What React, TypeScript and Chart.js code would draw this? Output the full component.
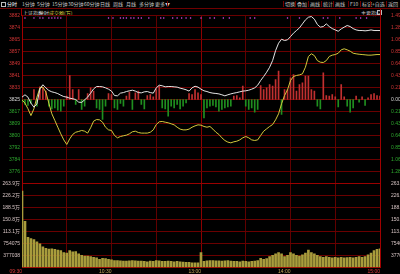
import React, { useEffect, useRef } from 'react';
import { Chart, registerables } from 'chart.js';
Chart.register(...registerables);

// ---------- data ----------
const BASE_PRICE = 3825;
const TOP_PCT = 1.49;
const MINUTE_STEP = 2;
const priceLabels = ['3882', '3874', '3865', '3857', '3849', '3841', '3833', '3825', '3817', '3809', '3800', '3792', '3784', '3776'];
const pctLabels = ['1.49%', '1.28%', '1.06%', '0.85%', '0.64%', '0.43%', '0.21%', '0.00%', '0.21%', '0.43%', '0.64%', '0.85%', '1.06%', '1.28%'];
const volLabels = ['263.9万', '226.2万', '188.5万', '150.8万', '113.1万', '754075', '377038'];
const VOL_STEP = 37.7038; // 万
const gridMinutes = [0, 30, 60, 90, 120, 150, 180, 210, 240];
const timeTicks = [0, 60, 120, 180, 240];
const timeTickLabels = ['09:30', '10:30', '13:00', '14:00', '15:00'];

const whiteLine = [
  3826.6, 3828.2, 3826.6, 3822.5, 3819.8, 3822.0, 3832.2, 3835.0, 3832.9, 3831.1,
  3830.2, 3829.7, 3829.0, 3827.9, 3827.0, 3826.6, 3825.9, 3825.5, 3825.0, 3823.2,
  3823.0, 3824.8, 3826.6, 3829.3, 3832.2, 3833.8, 3833.8, 3833.6, 3832.9, 3832.0,
  3830.7, 3827.7, 3827.5, 3829.3, 3829.7, 3830.4, 3830.9, 3831.3, 3830.7, 3829.7,
  3829.5, 3830.2, 3830.4, 3829.7, 3829.3, 3832.9, 3834.7, 3834.3, 3833.6, 3833.8,
  3833.8, 3833.6, 3833.4, 3832.7, 3832.2, 3831.6, 3830.7, 3832.9, 3834.0, 3833.4,
  3832.0,
  3830.9, 3830.4, 3829.7, 3829.3, 3829.1, 3828.8, 3828.2, 3827.5, 3828.2, 3828.8,
  3829.3, 3829.7, 3830.2, 3830.7, 3830.9, 3831.3, 3832.0, 3832.9, 3834.7, 3837.9,
  3840.6, 3843.5, 3846.9, 3851.4, 3858.2, 3863.2, 3865.9, 3865.0, 3865.5, 3867.7,
  3870.0, 3871.8, 3873.6, 3876.3, 3879.0, 3880.8, 3881.3, 3879.5, 3875.9, 3874.1,
  3874.5, 3876.3, 3874.5, 3873.1, 3872.2, 3871.3, 3872.9, 3874.1, 3875.2, 3874.5,
  3873.1, 3872.2, 3871.8, 3871.8, 3871.6, 3871.8, 3872.2, 3871.8, 3871.8, 3871.8,
];

const yellowLine = [
  3824.8, 3822.5, 3818.7, 3814.1, 3818.7, 3826.6, 3832.9, 3833.4, 3830.0, 3822.5,
  3815.3, 3810.8, 3806.2, 3801.7, 3797.6, 3794.5, 3798.3, 3801.3, 3802.8, 3803.3,
  3804.0, 3803.5, 3802.2, 3805.8, 3810.3, 3811.4, 3811.2, 3809.6, 3806.2, 3804.4,
  3804.0, 3800.6, 3799.0, 3799.9, 3800.4, 3800.8, 3801.7, 3803.1, 3803.5, 3802.6,
  3802.2, 3802.2, 3802.2, 3802.8, 3804.4, 3808.0, 3809.9, 3810.1, 3809.6, 3809.2,
  3808.5, 3807.8, 3806.2, 3804.9, 3804.4, 3804.4, 3804.9, 3806.2, 3807.1, 3807.8,
  3807.6,
  3806.7, 3806.2, 3806.7, 3804.9, 3802.8, 3801.3, 3799.0, 3797.2, 3796.1, 3795.6,
  3796.3, 3796.7, 3797.6, 3799.0, 3799.9, 3799.0, 3797.6, 3797.2, 3797.6, 3800.6,
  3803.5, 3805.1, 3806.7, 3808.0, 3811.2, 3815.3, 3822.1, 3827.7, 3831.6, 3837.9,
  3840.6, 3841.3, 3841.7, 3842.4, 3846.9, 3854.2, 3856.0, 3854.8, 3851.4, 3850.3,
  3850.1, 3851.4, 3854.2, 3855.1, 3855.5, 3856.4, 3858.7, 3859.4, 3858.7, 3857.8,
  3856.4, 3856.0, 3855.7, 3855.5, 3855.3, 3855.1, 3855.1, 3855.3, 3855.5, 3855.5,
];

const flowBars = [
  -0.8, -1.5, -1.8, -1.2, 3.0, -2.0, 3.8, 3.5, 2.5, -2.0,
  -2.8, -2.5, -3.2, -3.5, -2.0, 1.0, 7.2, 3.0, -1.5, 3.0,
  -3.0, -2.0, 1.8, 3.5, 2.5, -2.5, -3.0, -6.0, -2.0, 1.8,
  1.5, -2.5, -3.0, -1.2, -2.0, 1.0, 2.2, -3.0, 2.0, 2.5,
  -1.5, -2.8, 1.2, 1.5, 0.8, 3.0, 4.0, -2.5, -2.8, -5.0,
  -2.0, -2.5, -1.5, -2.8, -2.0, -1.0, 1.8, 1.5, 3.0, 2.0,
  1.5,
  -5.5, -2.5, -2.0, -1.8, -2.2, -3.5, -3.0, -2.5, -2.2, -2.0,
  1.0, 1.2, 0.5, 4.0, -2.0, -3.0, -2.5, -3.8, -3.0, 4.2,
  3.0, 3.5, 4.5, 4.0, 6.0, 8.5, -4.5, 3.0, 3.0, 6.5,
  7.5, 2.5, 4.5, 5.0, 7.0, 7.0, 3.0, 2.5, -2.0, -2.8,
  8.0, 1.2, 1.0, 1.5, 0.8, -2.2, 4.5, 0.8, -2.0, -3.8,
  -2.5, 1.0, -0.8, 0.8, -1.8, 0.5, 1.5, 1.8, 1.2, 1.0,
];
const FLOW_RANGE = 25.2;

const volume = [
  240, 145, 94.5, 91, 88, 81, 74, 65, 60, 58,
  59, 57, 55, 53, 47, 45, 53, 49, 50, 43,
  38, 36, 36, 34, 32, 30, 26, 29, 28, 26,
  24, 22, 22, 21, 20, 20, 21, 22, 21, 20,
  20, 19, 18, 20, 19, 22, 21, 19, 19, 20,
  19, 18, 19, 18, 17, 16, 16, 15, 15, 15,
  47,
  19, 21, 22, 22, 21, 21, 20, 21, 22, 20,
  19, 19, 18, 20, 19, 18, 19, 20, 22, 29,
  26, 28, 34, 38, 43, 47, 43, 34, 38, 47,
  43, 38, 36, 40, 45, 55, 47, 43, 38, 34,
  32, 34, 32, 30, 32, 30, 32, 30, 31, 32,
  30, 32, 34, 32, 34, 40, 45, 53, 57, 59,
];

const markerMinutes = [2, 8, 12, 14, 18, 20, 22, 24, 26, 58, 61, 66, 68, 70, 73, 75, 78, 80, 85, 93, 95, 101, 104, 107, 110, 113, 120, 126, 129, 135, 139, 153, 156, 178, 186, 202, 205, 213, 224, 227, 231];
const MARKER_LEVEL = 3880.3;

const topLeftItems = ['分时', '1分钟', '5分钟', '15分钟', '30分钟', '60分钟', '日线', '周线', '月线', '多分钟', '更多▼'];
const topRightItems = ['切换', '叠加', '画线', '统计', '画线', 'F10', '标记', '+自选', '返回'];

// ---------- styles ----------
const BG = '#000000';
const GRID = '#6a0000';
const GRID_V = '#600000';
const GRID_MID = '#8c0000';
const AXIS = '#a00000';
const RED = '#d03434';
const GREEN = '#2ea82e';
const WHITE = '#e4e4e4';
const YELLOW = '#d2c83c';
const BAR_RED = '#c03030';
const BAR_GREEN = '#1f8f1f';
const VOL = '#a89c3c';
const MAGENTA = '#c040d0';
const FONT = "'Liberation Sans', 'Noto Sans CJK SC', sans-serif";
const CJK = "'Noto Sans CJK SC', 'Liberation Sans', sans-serif";

const pMin = BASE_PRICE * (1 - TOP_PCT / 100);
const pMax = BASE_PRICE * (1 + TOP_PCT / 100);
const pStep = (pMax - pMin) / 14;
const vMax = VOL_STEP * 7;

const toPoints = (arr: number[]) => arr.map((v, i) => ({ x: i * MINUTE_STEP, y: v }));

const priceTickColor = (ctx: any) => (ctx.index > 7 ? RED : ctx.index === 7 ? '#d8d8d8' : GREEN);

function vGridColor(ctx: any) {
  const m = ctx && ctx.tick ? Number(ctx.tick.value) : -1;
  if (m === 0 || m === 240) return 'rgba(0,0,0,0)';
  if (m === 120) return GRID_MID;
  return GRID_V;
}

function xScale() {
  return {
    type: 'linear' as const,
    min: 0,
    max: 240,
    offset: false,
    afterBuildTicks: (s: any) => {
      s.ticks = gridMinutes.map((v) => ({ value: v }));
    },
    grid: { offset: false, drawTicks: false, color: vGridColor },
    border: { display: false },
  };
}

function PriceChart() {
  const ref = useRef<HTMLCanvasElement>(null);
  useEffect(() => {
    if (!ref.current) return;
    const chart = new Chart(ref.current, {
      type: 'line',
      data: {
        datasets: [
          {
            type: 'bar',
            data: toPoints(flowBars),
            yAxisID: 'yb',
            backgroundColor: flowBars.map((v) => (v >= 0 ? BAR_RED : BAR_GREEN)),
            barThickness: 1,
            order: 4,
          } as any,
          {
            type: 'line',
            data: toPoints(yellowLine),
            yAxisID: 'y',
            borderColor: YELLOW,
            borderWidth: 1,
            pointRadius: 0,
            tension: 0,
            order: 2,
          },
          {
            type: 'line',
            data: toPoints(whiteLine),
            yAxisID: 'y',
            borderColor: WHITE,
            borderWidth: 1,
            pointRadius: 0,
            tension: 0,
            order: 1,
          },
          {
            type: 'scatter',
            data: markerMinutes.map((m) => ({ x: m, y: MARKER_LEVEL })),
            yAxisID: 'y',
            pointStyle: 'rect',
            pointRadius: 0.9,
            backgroundColor: MAGENTA,
            borderWidth: 0,
            order: 0,
          } as any,
        ],
      },
      options: {
        responsive: false,
        animation: false,
        events: [],
        layout: { padding: { top: 15.5, bottom: 8.5, left: 0, right: 0 } },
        plugins: { legend: { display: false }, tooltip: { enabled: false } },
        scales: {
          x: {
            ...xScale(),
            ticks: { display: false },
            afterFit: (s: any) => { s.height = 0; },
          },
          y: {
            position: 'left',
            min: pMin,
            max: pMax,
            afterBuildTicks: (s: any) => {
              s.ticks = Array.from({ length: 15 }, (_, k) => ({ value: pMin + k * pStep }));
            },
            ticks: {
              autoSkip: false,
              padding: 2,
              font: { size: 5, family: FONT },
              color: priceTickColor,
              callback: (_v: any, i: number) => (i === 0 ? '' : priceLabels[14 - i]),
            },
            grid: { drawTicks: false, color: GRID },
            border: { color: AXIS },
            afterFit: (s: any) => { s.width = 22; },
          },
          yr: {
            position: 'right',
            min: pMin,
            max: pMax,
            afterBuildTicks: (s: any) => {
              s.ticks = Array.from({ length: 15 }, (_, k) => ({ value: pMin + k * pStep }));
            },
            ticks: {
              autoSkip: false,
              padding: 3,
              font: { size: 5, family: FONT },
              color: priceTickColor,
              callback: (_v: any, i: number) => (i === 0 ? '' : pctLabels[14 - i]),
            },
            grid: { display: false },
            border: { color: AXIS },
            afterFit: (s: any) => { s.width = 20; },
          },
          yb: { display: false, min: -FLOW_RANGE, max: FLOW_RANGE },
        },
      } as any,
    });
    return () => chart.destroy();
  }, []);
  return <canvas ref={ref} width={400} height={192} style={{ position: 'absolute', left: 0, top: 0, display: 'block' }} />;
}

function VolumeChart() {
  const ref = useRef<HTMLCanvasElement>(null);
  useEffect(() => {
    if (!ref.current) return;
    const ticks = () => Array.from({ length: 8 }, (_, k) => ({ value: k * VOL_STEP }));
    const chart = new Chart(ref.current, {
      type: 'bar',
      data: {
        datasets: [
          {
            data: toPoints(volume),
            backgroundColor: VOL,
            barThickness: 2,
          } as any,
        ],
      },
      options: {
        responsive: false,
        animation: false,
        events: [],
        layout: { padding: { top: 7.5, bottom: 0, left: 0, right: 0 } },
        plugins: { legend: { display: false }, tooltip: { enabled: false } },
        scales: {
          x: {
            ...xScale(),
            ticks: {
              autoSkip: false,
              maxRotation: 0,
              align: 'end',
              padding: 1,
              font: { size: 5, family: FONT },
              color: (ctx: any) => {
                const v = ctx && ctx.tick ? Number(ctx.tick.value) : -1;
                return v === 0 || v === 240 ? '#e03a3a' : '#c4a85a';
              },
              callback: (v: any) => {
                const i = timeTicks.indexOf(Number(v));
                return i >= 0 ? timeTickLabels[i] : '';
              },
            },
            border: { display: true, color: AXIS },
            afterFit: (s: any) => { s.height = 6.5; },
          },
          y: {
            position: 'left',
            min: 0,
            max: vMax,
            afterBuildTicks: (s: any) => { s.ticks = ticks(); },
            ticks: {
              autoSkip: false,
              padding: 2,
              font: { size: 5, family: FONT },
              color: '#d6c4c4',
              callback: (_v: any, i: number) => (i === 0 ? '' : volLabels[7 - i]),
            },
            grid: {
              drawTicks: false,
              color: (ctx: any) => (ctx && ctx.index === 7 ? '#9a0000' : GRID),
            },
            border: { color: AXIS },
            afterFit: (s: any) => { s.width = 22; },
          },
          yr: {
            position: 'right',
            min: 0,
            max: vMax,
            afterBuildTicks: (s: any) => { s.ticks = ticks(); },
            ticks: {
              autoSkip: false,
              padding: 3,
              font: { size: 5, family: FONT },
              color: '#d6c4c4',
              callback: (_v: any, i: number) => (i === 0 ? '' : volLabels[7 - i]),
            },
            grid: { display: false },
            border: { color: AXIS },
            afterFit: (s: any) => { s.width = 20; },
          },
        },
      } as any,
    });
    return () => chart.destroy();
  }, []);
  return <canvas ref={ref} width={400} height={98} style={{ position: 'absolute', left: 0, top: 176, display: 'block' }} />;
}

const leftX = [7, 22, 37, 52, 68, 84, 100, 113, 126, 139, 155];
const rightX = [285, 297, 310, 323, 335, 350, 362, 372, 388];

function Header() {
  const txt: React.CSSProperties = {
    position: 'absolute',
    fontFamily: CJK,
    fontSize: '5px',
    lineHeight: '8px',
    color: '#c8c8c8',
    whiteSpace: 'nowrap',
  };
  return (
    <>
      <div style={{ position: 'absolute', left: 0, top: 8, width: 400, height: 1, background: '#700000' }} />
      <div style={{ position: 'absolute', left: 1, top: 2, width: 3, height: 3, border: '1px solid #bbbbbb' }} />
      {topLeftItems.map((t, i) => (
        <span key={'l' + i} style={{ ...txt, left: leftX[i], top: 0, color: i === 0 ? '#ffffff' : '#c8c8c8' }}>{t}</span>
      ))}
      <div style={{ position: 'absolute', left: 167, top: 1, width: 1, height: 6, background: '#700000' }} />
      {topRightItems.map((t, i) => (
        <React.Fragment key={'r' + i}>
          <div style={{ position: 'absolute', left: rightX[i] - 2, top: 1, width: 1, height: 6, background: '#700000' }} />
          <span style={{ ...txt, left: rightX[i], top: 0 }}>{t}</span>
        </React.Fragment>
      ))}
      <span style={{ ...txt, left: 23, top: 8.5, color: '#d0d0d0' }}>上证指数</span>
      <span style={{ ...txt, left: 39, top: 8.5, color: '#d0d0d0' }}>分时</span>
      <span style={{ ...txt, left: 49, top: 8.5, color: '#d8d040' }}>成交额(万)</span>
      <span style={{ ...txt, left: 361, top: 8.5, color: '#d0d0d0' }}>主要指标</span>
      <div style={{ position: 'absolute', left: 377, top: 10, width: 3, height: 3, border: '1px solid #bbbbbb' }} />
      <div style={{ position: 'absolute', left: 21, top: 9, width: 1, height: 7, background: AXIS }} />
      <div style={{ position: 'absolute', left: 380, top: 9, width: 1, height: 7, background: AXIS }} />
    </>
  );
}

export default function App() {
  useEffect(() => {
    document.body.style.margin = '0';
    document.body.style.background = BG;
  }, []);
  return (
    <div style={{ position: 'fixed', left: 0, top: 0, width: 400, height: 274, background: BG, overflow: 'hidden' }}>
      <Header />
      <PriceChart />
      <VolumeChart />
    </div>
  );
}
